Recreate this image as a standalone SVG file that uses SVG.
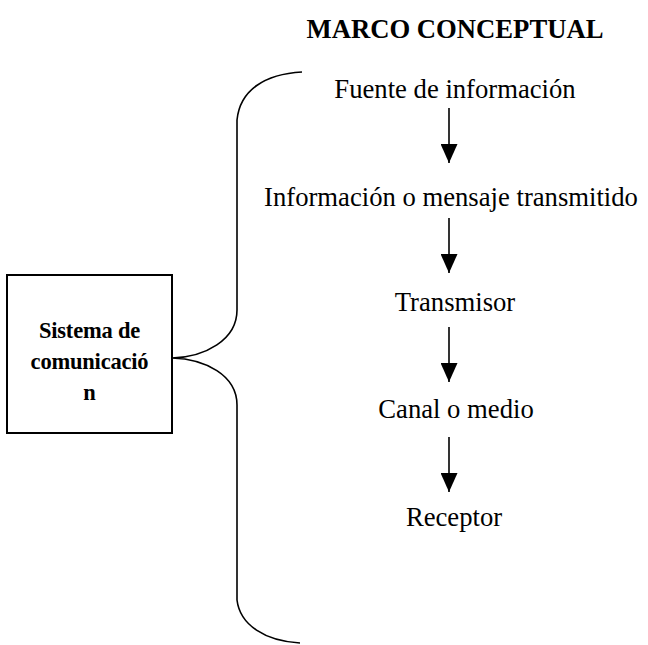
<svg xmlns="http://www.w3.org/2000/svg" width="648" height="645" viewBox="0 0 648 645">
<style>
.t{font-family:"Liberation Serif","Times New Roman",serif;font-size:26.67px;fill:#000;text-anchor:middle}
.b{font-weight:bold}
.bx{font-family:"Liberation Serif","Times New Roman",serif;font-size:22.5px;font-weight:bold;fill:#000;text-anchor:middle;letter-spacing:-0.2px}
.ln{stroke:#000;stroke-width:1.6;fill:none}
</style>
<defs>
<marker id="ah" markerWidth="19" markerHeight="17" refX="19" refY="8.5" orient="auto" markerUnits="userSpaceOnUse" viewBox="0 0 19 17">
<path d="M0,0 L19,8.5 L0,17 Z" fill="#000"/>
</marker>
</defs>
<rect width="648" height="645" fill="#fff"/>
<g id="title"><text class="t b" x="455" y="38">MARCO CONCEPTUAL</text></g>
<g id="sistema">
<rect x="7" y="275" width="165" height="158" fill="#fff" stroke="#000" stroke-width="2"/>
<text class="bx" x="89.5" y="338">Sistema de</text>
<text class="bx" x="89.5" y="369">comunicació</text>
<text class="bx" x="89.5" y="400">n</text>
</g>
<g id="fuente"><text class="t" x="455" y="98">Fuente de información</text></g>
<g id="informacion"><text class="t" x="451" y="206">Información o mensaje transmitido</text></g>
<g id="transmisor"><text class="t" x="455" y="311">Transmisor</text></g>
<g id="canal"><text class="t" x="456" y="418">Canal o medio</text></g>
<g id="receptor"><text class="t" x="454" y="526">Receptor</text></g>
<g id="connectors">
<path class="ln" d="M302,72 C265,74 240,90 237,120 L237,310 C237,340 205,357 172,358 C205,359 237,375 237,405 L237,600 C240,625 265,641 300,643"/>
<line class="ln" x1="449" y1="108" x2="449" y2="163" marker-end="url(#ah)"/>
<line class="ln" x1="449" y1="218" x2="449" y2="273" marker-end="url(#ah)"/>
<line class="ln" x1="449" y1="327" x2="449" y2="382" marker-end="url(#ah)"/>
<line class="ln" x1="449" y1="437" x2="449" y2="492" marker-end="url(#ah)"/>
</g>
</svg>
